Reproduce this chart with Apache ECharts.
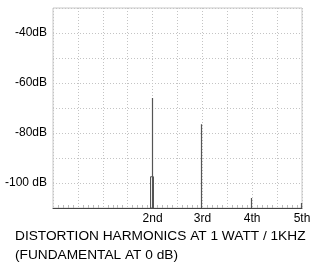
<!DOCTYPE html>
<html><head><meta charset="utf-8">
<script src="https://cdn.jsdelivr.net/npm/echarts@6/dist/echarts.min.js"></script>
<style>html,body{margin:0;padding:0;background:#fff}#c{width:320px;height:269px}</style>
</head><body><div id="c"></div>
<script>
// Data
var harmonics = [2, 3, 4, 5];
var levels = [-66, -76.5, -106, -108];
var markerHarmonics = [2];
var markerLevels = [-97.5];
var xTickValues = [2, 3, 4, 5];
var xTickLabels = ['2nd', '3rd', '4th', '5th'];
var yTickValues = [-40, -60, -80, -100];
var yTickLabels = ['-40dB', '-60dB', '-80dB', '-100 dB'];
var titleLines = ['DISTORTION HARMONICS AT 1 WATT / 1KHZ', '(FUNDAMENTAL AT 0 dB)'];

var Y_MIN = -110, Y_MAX = -30;
var lineData = harmonics.map(function (h, i) { return [h, levels[i]]; });
var markerData = markerHarmonics.map(function (h, i) { return [h, markerLevels[i]]; });

var chart = echarts.init(document.getElementById('c'), null, {renderer: 'canvas'});
var font = 'Arial, "Liberation Sans", sans-serif';
chart.setOption({
  animation: false,
  backgroundColor: '#fff',
  title: {
    text: titleLines.join('\n'),
    left: 15, top: 227, padding: 0,
    textStyle: {fontFamily: font, fontSize: 13.7, fontWeight: 'normal', color: '#000', lineHeight: 19}
  },
  grid: {left: 53, right: 18, top: 8, bottom: 61, show: true, borderColor: '#c8c8c8', borderWidth: 1},
  xAxis: {
    type: 'value', min: 0, max: 5, interval: 0.5,
    axisLine: {show: true, lineStyle: {color: '#444', width: 1}},
    axisTick: {show: false, inside: true},
    minorTick: {show: true, splitNumber: 5, length: 3, lineStyle: {color: '#bbb'}},
    axisLabel: {
      margin: 5, color: '#000', fontFamily: font, fontSize: 12,
      showMaxLabel: true,
      formatter: function (v) { var i = xTickValues.indexOf(v); return i >= 0 ? xTickLabels[i] : ''; }
    },
    splitLine: {show: true, lineStyle: {color: '#c4c4c4', type: [1, 2]}}
  },
  yAxis: {
    type: 'value', min: Y_MIN, max: Y_MAX, interval: 10,
    axisLine: {show: false},
    axisTick: {show: false},
    axisLabel: {
      margin: 6, color: '#000', fontFamily: font, fontSize: 12,
      formatter: function (v) { var i = yTickValues.indexOf(v); return i >= 0 ? yTickLabels[i] : ''; }
    },
    splitLine: {show: true, lineStyle: {color: '#c4c4c4', type: [1, 2]}}
  },
  series: [
    {
      type: 'custom',
      data: markerData,
      renderItem: function (params, api) {
        var top = api.coord([api.value(0), api.value(1)]);
        var bot = api.coord([api.value(0), Y_MIN]);
        return {type: 'rect', shape: {x: Math.round(top[0]) - 2.5, y: top[1], width: 3, height: bot[1] - top[1]},
          style: {fill: '#fff', stroke: '#555', lineWidth: 1}};
      }
    },
    {
      type: 'custom',
      data: lineData,
      renderItem: function (params, api) {
        var top = api.coord([api.value(0), api.value(1)]);
        var bot = api.coord([api.value(0), Y_MIN]);
        var x = Math.round(top[0]) - 0.5;
        return {type: 'line', shape: {x1: x, y1: top[1], x2: x, y2: bot[1]},
          style: {stroke: '#555', lineWidth: 1.2}};
      }
    }
  ]
});
</script></body></html>
